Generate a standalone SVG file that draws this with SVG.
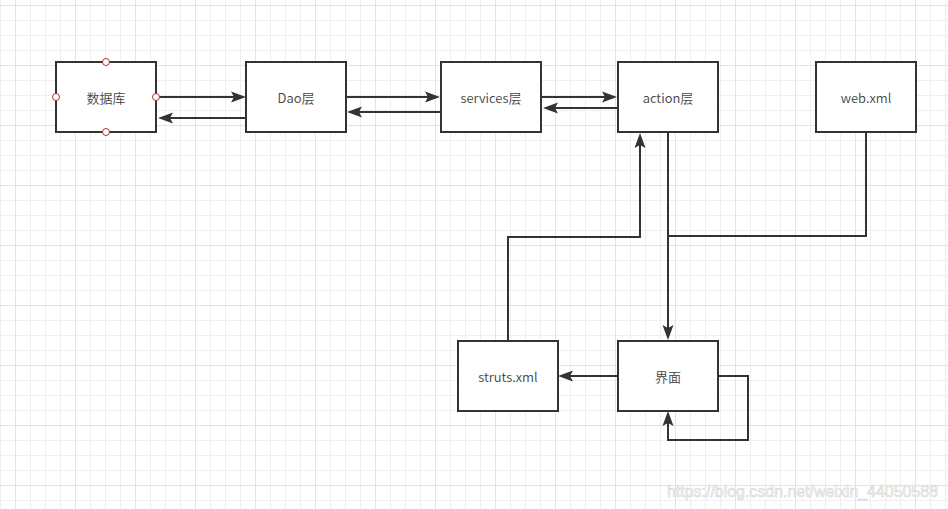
<svg xmlns="http://www.w3.org/2000/svg" width="948" height="509" viewBox="0 0 948 509">
<defs>
<pattern id="minor" patternUnits="userSpaceOnUse" x="0" y="5" width="15" height="15">
<path d="M0 0.5H15M0.5 0V15" stroke="#efefef" stroke-width="1" fill="none"/>
</pattern>
<pattern id="major" patternUnits="userSpaceOnUse" x="15" y="5" width="60" height="60">
<path d="M0 0.5H60M0.5 0V60" stroke="#e3e3e3" stroke-width="1" fill="none"/>
</pattern>
<marker id="arr" markerUnits="userSpaceOnUse" markerWidth="16" markerHeight="12" viewBox="0 0 16 12" refX="12" refY="6" orient="auto">
<path d="M0 0.5L15 6L0 11.5L3 6Z" fill="#333"/>
</marker>
</defs>
<style>
.box{fill:#fff;stroke:#333;stroke-width:2}
.lbl{font-family:"Microsoft YaHei","Noto Sans CJK SC",sans-serif;font-size:13px;font-weight:350;fill:#444;text-anchor:middle;dominant-baseline:central}
.c{fill:none;stroke:#333;stroke-width:2}
.a{marker-end:url(#arr)}
.port{fill:#fff;stroke:#a33;stroke-width:1}
</style>
<rect width="948" height="509" fill="#fff"/>
<rect width="948" height="509" fill="url(#minor)"/>
<rect width="948" height="509" fill="url(#major)"/>
<g id="connectors">
<path class="c a" d="M156 97H243"/>
<path class="c a" d="M246 118H161"/>
<path class="c a" d="M346 97H437"/>
<path class="c a" d="M441 112H350"/>
<path class="c a" d="M541 97H614"/>
<path class="c a" d="M618 108H546"/>
<path class="c a" d="M668 132V337"/>
<path class="c a" d="M508 341V237H640V136"/>
<path class="c" d="M866 132V236H668" stroke-width="1.6"/>
<path class="c a" d="M618 376H561"/>
<path class="c a" d="M718 376H748V440H668V414"/>
</g>
<g id="node-db">
<rect class="box" x="56" y="62" width="100" height="70"/>
<text class="lbl" x="106" y="97">数据库</text>
<circle class="port" cx="106" cy="62" r="3.5"/>
<circle class="port" cx="106" cy="132" r="3.5"/>
<circle class="port" cx="56" cy="97" r="3.5"/>
<circle class="port" cx="156" cy="97" r="3.5"/>
</g>
<g id="node-dao">
<rect class="box" x="246" y="62" width="100" height="70"/>
<text class="lbl" x="296" y="97">Dao层</text>
</g>
<g id="node-services">
<rect class="box" x="441" y="62" width="100" height="70"/>
<text class="lbl" x="491" y="97">services层</text>
</g>
<g id="node-action">
<rect class="box" x="618" y="62" width="100" height="70"/>
<text class="lbl" x="668" y="97">action层</text>
</g>
<g id="node-web">
<rect class="box" x="816" y="62" width="100" height="70"/>
<text class="lbl" x="866" y="97">web.xml</text>
</g>
<g id="node-struts">
<rect class="box" x="458" y="341" width="100" height="70"/>
<text class="lbl" x="508" y="376">struts.xml</text>
</g>
<g id="node-ui">
<rect class="box" x="618" y="341" width="100" height="70"/>
<text class="lbl" x="668" y="376">界面</text>
</g>
<text x="667" y="497" font-family="'Liberation Sans',sans-serif" font-size="16" fill="#f7f7f7" stroke="#d6d6d6" stroke-width="0.6" textLength="271" lengthAdjust="spacingAndGlyphs">https://blog.csdn.net/weixin_44050588</text>
</svg>
